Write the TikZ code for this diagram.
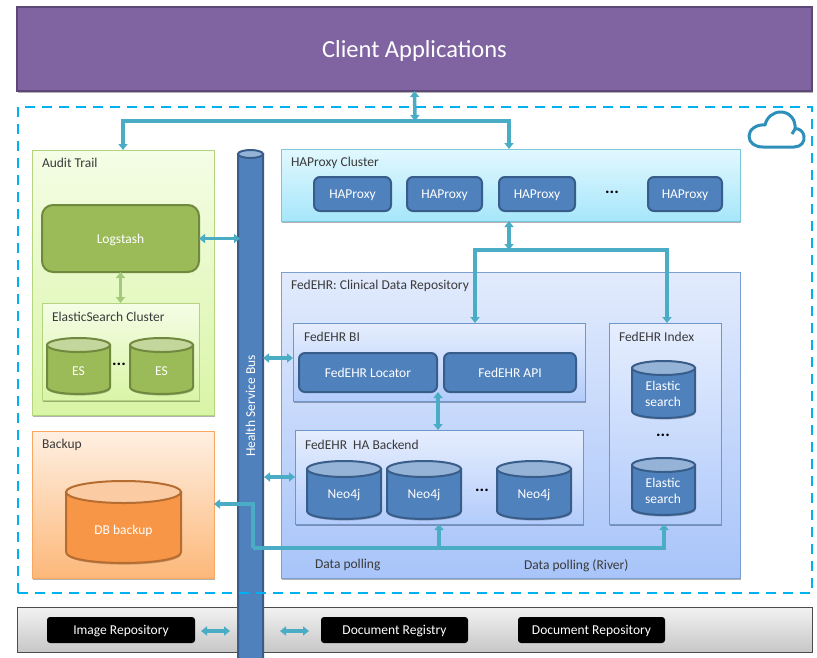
\documentclass[tikz,border=0pt]{standalone}
\usepackage{fontspec}
\setmainfont{Carlito}
\usetikzlibrary{arrows.meta,shadows,calc}
\definecolor{lnk}{HTML}{4BACC6}
\definecolor{lnkg}{HTML}{A5C97A}
\definecolor{blu}{HTML}{4F81BD}
\definecolor{blud}{HTML}{385D8A}
\definecolor{bluh}{HTML}{95B3D7}
\definecolor{grn}{HTML}{9BBB59}
\definecolor{grnd}{HTML}{71893F}
\definecolor{grnh}{HTML}{C3D69B}
\definecolor{org}{HTML}{F79646}
\definecolor{orgd}{HTML}{B66D31}
\definecolor{orgh}{HTML}{FBCBA3}
\definecolor{txt}{HTML}{3A3A3A}
\definecolor{pur}{HTML}{8064A2}
\definecolor{purd}{HTML}{5C4776}
\definecolor{dashc}{HTML}{00B0F0}
\definecolor{cloudc}{HTML}{2E8FBB}
\definecolor{audt}{HTML}{F5FDE6}
\definecolor{audb}{HTML}{D9F5A6}
\definecolor{audl}{HTML}{B5D47E}
\definecolor{orgt}{HTML}{FFF0E2}
\definecolor{orgb}{HTML}{FCB87A}
\definecolor{orgl}{HTML}{F8A860}
\definecolor{hapt}{HTML}{E2F8FE}
\definecolor{hapb}{HTML}{A6E6FB}
\definecolor{hapl}{HTML}{7CC7D9}
\definecolor{fedt}{HTML}{E2EBFD}
\definecolor{fedb}{HTML}{A8C4F9}
\definecolor{fedl}{HTML}{7B9FD0}
\definecolor{innt}{HTML}{E6EEFE}
\definecolor{innb}{HTML}{B3CCFB}
\definecolor{innl}{HTML}{6F97CC}
\tikzset{
  x=1pt,y=-1pt,
  every node/.style={inner sep=0pt,outer sep=0pt,font=\fontsize{13.5}{15.5}\selectfont},
  shd/.style={drop shadow={shadow xshift=0.6pt,shadow yshift=-1.6pt,opacity=.3,fill=black}},
  panel/.style={rectangle,draw,line width=1pt,shd},
  auditp/.style={panel,draw=audl,top color=audt,bottom color=audb},
  esp/.style={panel,draw=audl,top color=audt,bottom color=audb},
  backp/.style={panel,draw=orgl,top color=orgt,bottom color=orgb},
  happ/.style={panel,draw=hapl,top color=hapt,bottom color=hapb},
  fedp/.style={panel,draw=fedl,top color=fedt,bottom color=fedb},
  innp/.style={panel,draw=innl,top color=innt,bottom color=innb},
  boxtext/.style={text height=9pt,text depth=0pt},
  rblue/.style={rectangle,rounded corners=6pt,draw=blud,line width=2pt,fill=blu,text=white,boxtext},
  rgreen/.style={rectangle,rounded corners=11pt,draw=grnd,line width=2pt,fill=grn,text=white,boxtext},
  rblack/.style={rectangle,rounded corners=3pt,fill=black,text=white,boxtext},
  ttl/.style={anchor=west,text=txt,yshift=-1pt},
  lbl/.style={text=white,align=center,yshift=-1pt},
  dots/.style={text=black,font=\fontsize{17}{17}\selectfont\bfseries},
  bilink/.style={draw=lnk,line width=3.5pt,{Triangle[width=9pt,length=6pt]}-{Triangle[width=9pt,length=6pt]}},
  tolink/.style={draw=lnk,line width=3.5pt,-{Triangle[width=9pt,length=6pt]}},
}
% style, name, x0, y0, x1, y1, text
\newcommand\bx[7]{\node[#1,minimum width={#5-#3},minimum height={#6-#4}] (#2) at ({(#3+#5)/2},{(#4+#6)/2}) {#7};}
% name, x0, y0, x1, y1, ry, fill, border, top
\newcommand\dbase[9]{%
  \fill[black,opacity=.22] ({#2+.6},{#3+#6+1.6}) -- ({#2+.6},{#5-#6+1.6}) .. controls ({#2+.6},{#5+#6*.33+1.6}) and ({#4+.6},{#5+#6*.33+1.6}) .. ({#4+.6},{#5-#6+1.6}) -- ({#4+.6},{#3+#6+1.6}) -- cycle;
  \draw[fill=#7,draw=#8,line width=2pt] (#2,{#3+#6}) -- (#2,{#5-#6}) .. controls (#2,{#5+#6*.33}) and (#4,{#5+#6*.33}) .. (#4,{#5-#6}) -- (#4,{#3+#6}) -- cycle;
  \draw[fill=#9,draw=#8,line width=2pt] ({(#2+#4)/2},{#3+#6}) ellipse [x radius={(#4-#2)/2},y radius=#6];
  \node[minimum width={#4-#2},minimum height={#5-#3}] (#1) at ({(#2+#4)/2},{(#3+#5)/2}) {};
}
\begin{document}
\begin{tikzpicture}
\path[use as bounding box] (0,0) rectangle (817,657);
\clip (0,0) rectangle (817,657);
\fill[white] (0,0) rectangle (817,657);

% bottom bar
\bx{rectangle,draw=black!70,line width=1pt,top color=white!95!black,bottom color=black!22}{registry}{17}{607}{812}{652}{}
\bx{rblack}{imgrepo}{47}{617}{195}{643}{Image Repository}
\bx{rblack}{docreg}{321}{617}{468}{643}{Document Registry}
\bx{rblack}{docrepo}{518}{617}{665}{643}{Document Repository}

% client
\bx{rectangle,draw=purd,line width=1.5pt,fill=pur,text=white,font=\fontsize{24.5}{28}\selectfont,text height=17pt,text depth=0pt,shd}{client}{17}{7}{812}{91}{Client Applications}

% panels
\bx{auditp}{audit}{32}{150}{214}{415}{}
\node[ttl] (audittitle) at (42,162) {Audit Trail};
\bx{rgreen}{logstash}{42}{205}{199}{272}{Logstash}
\bx{esp}{escl}{42}{303}{199}{400}{}
\node[ttl] (estitle) at (52,316) {ElasticSearch Cluster};
\dbase{es1}{47}{338}{110}{394}{7}{grn}{grnd}{grnh}
\node[lbl] (es1t) at (78.5,370) {ES};
\dbase{es2}{130}{338}{193}{394}{7}{grn}{grnd}{grnh}
\node[lbl] (es2t) at (161.5,370) {ES};
\node[dots] (esdots) at (119,364) {...};

\bx{backp}{backup}{32}{431}{214}{578}{}
\node[ttl] (backuptitle) at (42,444) {Backup};
\dbase{dbb}{66}{481}{181}{563}{11}{org}{orgd}{orgh}
\node[lbl] (dbbt) at (123.5,530) {DB backup};

\bx{happ}{hapc}{281}{149}{740}{221}{}
\node[ttl] (haptitle) at (291,162) {HAProxy Cluster};
\bx{rblue}{hap1}{314}{177}{391}{211}{HAProxy}
\bx{rblue}{hap2}{407}{177}{482}{211}{HAProxy}
\bx{rblue}{hap3}{499}{177}{575}{211}{HAProxy}
\node[dots] (hapdots) at (612,192) {...};
\bx{rblue}{hap4}{648}{177}{722}{211}{HAProxy}

\bx{fedp}{fed}{281}{272}{740}{578}{}
\node[ttl] (fedtitle) at (291,285) {FedEHR:\ Clinical Data Repository};
\bx{innp}{bi}{293}{323}{585}{401}{}
\node[ttl] (bititle) at (304,336) {FedEHR BI};
\bx{rblue}{locator}{299}{353}{437}{392}{FedEHR Locator}
\bx{rblue}{api}{444}{353}{576}{392}{FedEHR API}
\bx{innp}{backend}{295}{430}{583}{524}{}
\node[ttl] (betitle) at (305,444) {FedEHR\ \ HA Backend};
\dbase{neo1}{307}{461}{381}{519}{8}{blu}{blud}{bluh}
\node[lbl] (neo1t) at (344,494) {Neo4j};
\dbase{neo2}{387}{461}{461}{519}{8}{blu}{blud}{bluh}
\node[lbl] (neo2t) at (424,494) {Neo4j};
\node[dots] (neodots) at (482,490) {...};
\dbase{neo3}{497}{461}{571}{519}{8}{blu}{blud}{bluh}
\node[lbl] (neo3t) at (534,494) {Neo4j};

\bx{innp}{index}{609}{323}{721}{524}{}
\node[ttl] (idxtitle) at (619,336) {FedEHR Index};
\dbase{el1}{632}{361}{695}{418}{7}{blu}{blud}{bluh}
\node[lbl] (el1t) at (663,393) {Elastic\\search};
\node[dots] (eldots) at (663,435) {...};
\dbase{el2}{632}{458}{695}{515}{7}{blu}{blud}{bluh}
\node[lbl] (el2t) at (663,490) {Elastic\\search};

\node[ttl] (dp1) at (315,564) {Data polling};
\node[ttl] (dp2) at (524,565) {Data polling (River)};

% bus
\dbase{bus}{238}{150}{263}{664}{4}{blu}{blud}{bluh}
\node[text=white,rotate=90] (bust) at (250.5,406) {Health Service Bus};

% cloud boundary
\node[draw=dashc,line width=2.5pt,dash pattern=on 10pt off 7pt,minimum width=794,minimum height=486] (cloudb) at (415,350) {};

% cloud icon
\draw[draw=cloudc,line width=3pt,line join=round,fill=white]
 (763,147) -- (794,147)
 .. controls (801,147) and (805,142) .. (804,136)
 .. controls (803,131) and (799,128) .. (795,129)
 .. controls (796,119) and (789,112) .. (781,112)
 .. controls (773,112) and (767,117) .. (765,125)
 .. controls (756,124) and (749,130) .. (749,136)
 .. controls (749,143) and (755,147) .. (763,147) -- cycle;
\draw[draw=cloudc,line width=3pt] (795,129) -- (792,134);

% connectors
\coordinate (hub) at (415,121);
\coordinate (hapin) at (509,149);
\coordinate (hapout) at (509,221);
\coordinate (fork) at (509,250);
\coordinate (biin) at (475,323);
\coordinate (idxin) at (667,323);
\draw[tolink] (hub) -| (audit.north);
\draw[tolink] (hub) -| (hapin);
\draw[bilink] (client.south) -- (hub);
\draw[tolink] (fork) -| (biin);
\draw[tolink] (fork) -| (idxin);
\draw[bilink] (hapout) -- (fork);
\coordinate (busls) at (240,238.5);
\draw[bilink] (logstash.east) -- (busls);
\coordinate (lsdn) at (120.5,272);
\coordinate (esup) at (120.5,303);
\draw[draw=lnkg,line width=3.5pt,{Triangle[width=9pt,length=6pt]}-{Triangle[width=9pt,length=6pt]}] (lsdn) -- (esup);
\coordinate (busbi) at (263,358);
\coordinate (bibus) at (293,358);
\draw[bilink] (busbi) -- (bibus);
\coordinate (apidn) at (438,392);
\coordinate (bkup) at (438,430);
\draw[bilink] (apidn) -- (bkup);
\coordinate (busbk) at (264,477);
\coordinate (bkbus) at (295,477);
\draw[bilink] (busbk) -- (bkbus);
\coordinate (bkin) at (214,504);
\coordinate (corner1) at (253,504);
\coordinate (corner2) at (253,548);
\coordinate (polljoin) at (439,548);
\coordinate (neoout) at (439,524);
\coordinate (idxout) at (664,524);
\draw[tolink] (corner2) -- (corner1) -- (bkin);
\draw[tolink] (corner2) -| (idxout);
\draw[tolink] (polljoin) -- (neoout);
\coordinate (b1l) at (201,631);
\coordinate (b1r) at (230,631);
\coordinate (b2l) at (280,631);
\coordinate (b2r) at (309,631);
\draw[bilink] (b1l) -- (b1r);
\draw[bilink] (b2l) -- (b2r);
\end{tikzpicture}
\end{document}
